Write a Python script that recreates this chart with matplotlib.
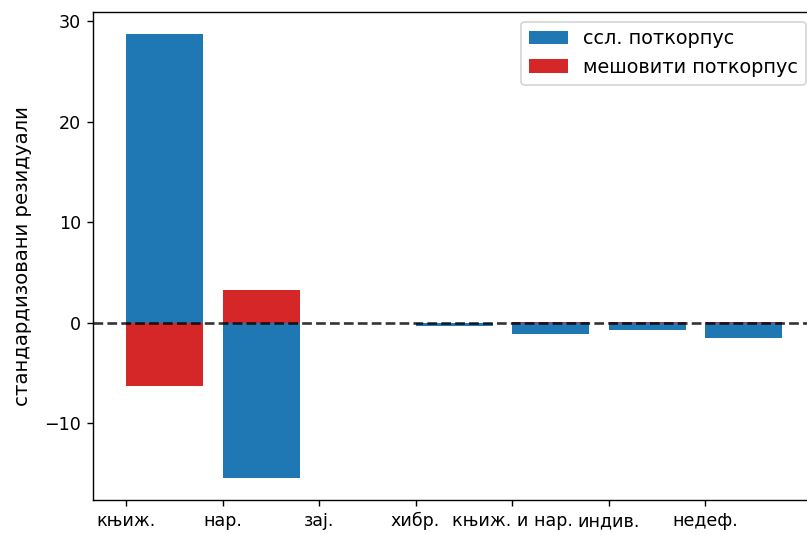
import matplotlib
matplotlib.use("Agg")
import matplotlib.pyplot as plt
import numpy as np

categories = ["књиж.", "нар.", "зај.", "хибр.", "књиж. и нар.", "индив.", "недеф."]
ssl_resid = [28.7, -15.4, 0.0, -0.3, -1.1, -0.7, -1.5]
mixed_resid = [-6.3, 3.3, 0.0, 0.0, 0.1, 0.1, 0.1]

W, H, DPI = 807, 535, 126
fig = plt.figure(figsize=(W / DPI, H / DPI), dpi=DPI)
ax = fig.add_axes([93.2 / W, 35 / H, 722 / W, 488 / H])

x = np.arange(len(categories))
ax.bar(x, ssl_resid, width=0.8, align="edge", color="#1f77b4", label="ссл. поткорпус")
ax.bar(x, mixed_resid, width=0.8, align="edge", color="#d62728", label="мешовити поткорпус")
ax.axhline(0, color="k", linestyle="--", linewidth=1.5, alpha=0.8)

ax.set_xticks(x)
ax.set_xticklabels(categories)
ax.set_ylabel("стандардизовани резидуали", fontsize=11.3, labelpad=7)
ax.legend(loc="upper right", fontsize=11)

fig.savefig("out.png", dpi=DPI)
